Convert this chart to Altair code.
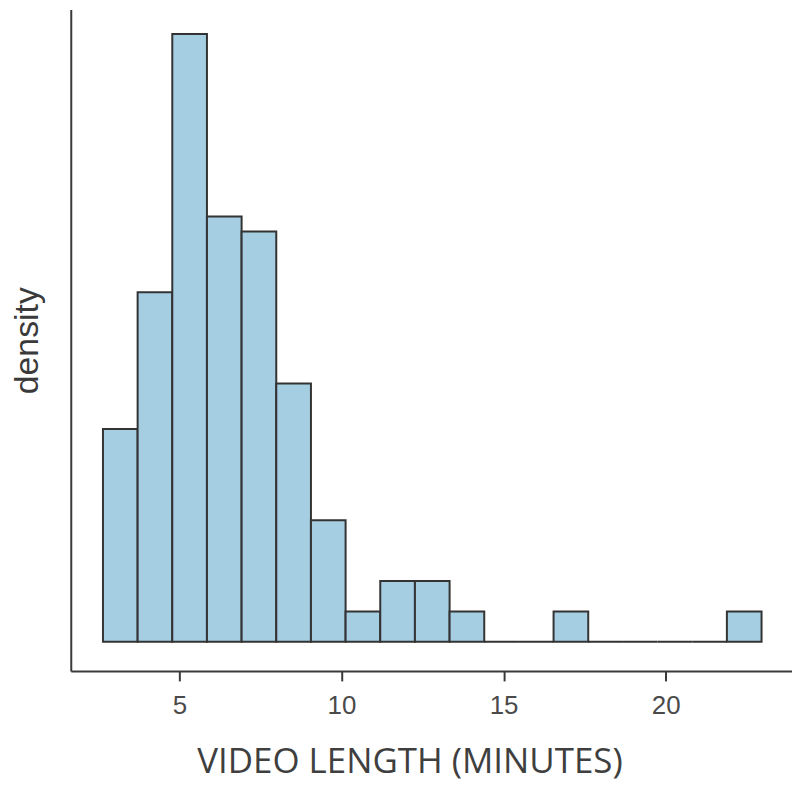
import altair as alt
import pandas as pd

# Histogram
bin_start = 2.644      # minutes, left edge of first bin
bin_width = 1.069      # minutes
density = [0.070, 0.115, 0.200, 0.140, 0.135, 0.085, 0.040, 0.010, 0.020, 0.020,
           0.010, 0.000, 0.000, 0.010, 0.000, 0.000, 0.000, 0.000, 0.010]
x_ticks = [5, 10, 15, 20]

lo = [bin_start + i * bin_width for i in range(len(density))]
df = pd.DataFrame({"lo": lo, "hi": [v + bin_width for v in lo], "density": density})

bars = alt.Chart(df).mark_rect(
    fill="#a6cee3", stroke="#333333", strokeWidth=2
).encode(
    x=alt.X("lo:Q",
            scale=alt.Scale(domain=[1.651, 23.894], nice=False, zero=False),
            axis=alt.Axis(values=x_ticks, title="VIDEO LENGTH (MINUTES)", grid=False,
                          domainColor="#3a3a3a", domainWidth=2,
                          tickColor="#3a3a3a", tickWidth=2, tickSize=10,
                          labelFont="Liberation Sans", labelFontSize=26,
                          labelColor="#4a4a4a", labelPadding=12,
                          titleFont="Open Sans", titleFontSize=35,
                          titleFontWeight="normal", titleColor="#3f3f3f",
                          titlePadding=26, titleX=340)),
    x2="hi:Q",
    y=alt.Y("density:Q",
            scale=alt.Scale(domain=[-0.0096, 0.2081], nice=False, zero=False),
            axis=alt.Axis(title="density", labels=False, ticks=False, grid=False,
                          domainColor="#3a3a3a", domainWidth=2,
                          titleFont="Liberation Sans", titleFontSize=34,
                          titleFontWeight="normal", titleColor="#3a3a3a",
                          titlePadding=26)),
    y2=alt.datum(0),
).properties(
    width=724, height=664,
    autosize=alt.AutoSizeParams(type="none"),
    padding={"left": 63, "top": 0, "right": 0, "bottom": 118},
).configure_view(stroke=None)

bars.save("out.html", embed_options={"renderer": "svg", "actions": False})
